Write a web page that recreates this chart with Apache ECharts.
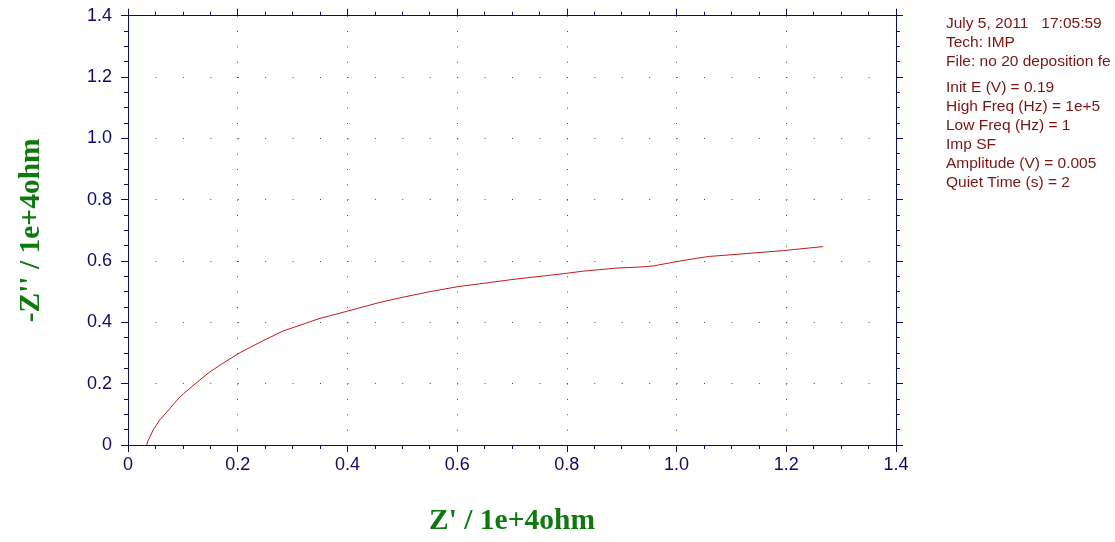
<!DOCTYPE html>
<html>
<head>
<meta charset="utf-8">
<script src="https://cdn.jsdelivr.net/npm/echarts@6/dist/echarts.min.js"></script>
<style>
html,body{margin:0;padding:0;background:#fff;}
#chart{width:1115px;height:542px;}
</style>
</head>
<body>
<div id="chart"></div>
<script>
// Data (units: 1e+4 ohm)
const zReal = [0.034, 0.037, 0.046, 0.058, 0.074, 0.089, 0.101, 0.125, 0.146, 0.168, 0.204, 0.245, 0.283, 0.350, 0.399, 0.459, 0.496, 0.550, 0.600, 0.702, 0.800, 0.830, 0.891, 0.939, 0.958, 1.000, 1.037, 1.060, 1.097, 1.195, 1.267];
const zImagNeg = [0.000, 0.016, 0.049, 0.082, 0.114, 0.146, 0.167, 0.203, 0.234, 0.261, 0.301, 0.339, 0.372, 0.413, 0.436, 0.465, 0.480, 0.500, 0.516, 0.540, 0.560, 0.567, 0.577, 0.581, 0.584, 0.598, 0.609, 0.615, 0.620, 0.634, 0.647];
const infoLinesTop = ['July 5, 2011   17:05:59', 'Tech: IMP', 'File: no 20 deposition fe'];
const infoLinesBottom = ['Init E (V) = 0.19', 'High Freq (Hz) = 1e+5', 'Low Freq (Hz) = 1', 'Imp SF', 'Amplitude (V) = 0.005', 'Quiet Time (s) = 2'];
const xTitle = "Z' / 1e+4ohm";
const yTitle = "-Z'' / 1e+4ohm";

const axisColor = '#0c0c68';
const gridDotColor = '#4e4e38';
const fmt = v => (Math.abs(v) < 1e-9 ? '0' : v.toFixed(1));

const chart = echarts.init(document.getElementById('chart'));

const infoFont = '15.5px "Liberation Sans", Arial, sans-serif';
const graphics = [];
infoLinesTop.forEach((t, i) => graphics.push({
  type: 'text', left: 946, top: 16 + i * 19,
  style: { text: t, fill: '#7a1414', font: infoFont }
}));
infoLinesBottom.forEach((t, i) => graphics.push({
  type: 'text', left: 946, top: 80 + i * 19,
  style: { text: t, fill: '#7a1414', font: infoFont }
}));

const baseAxis = {
  type: 'value', min: 0, max: 1.4, interval: 0.2,
  axisLine: { show: true, onZero: false, lineStyle: { color: axisColor, width: 1 } },
  axisTick: { show: true, inside: false, length: 7, lineStyle: { color: axisColor } },
  minorTick: { show: true, splitNumber: 4, length: 4, lineStyle: { color: axisColor } }
};
const titleStyle = { color: '#0e7a0e', fontFamily: '"Liberation Serif", "Times New Roman", serif', fontWeight: 'bold', fontSize: 29.5 };
const labelStyle = { show: true, color: axisColor, fontSize: 18, fontFamily: '"Liberation Sans", Arial, sans-serif', formatter: fmt };

chart.setOption({
  animation: false,
  backgroundColor: '#fff',
  graphic: graphics,
  grid: { left: 128, right: 219, top: 15.7, bottom: 97, containLabel: false },
  xAxis: [
    Object.assign({}, baseAxis, {
      position: 'bottom',
      name: xTitle, nameLocation: 'middle', nameGap: 61,
      nameTextStyle: titleStyle,
      axisLabel: Object.assign({ margin: 11 }, labelStyle),
      splitLine: { show: true, lineStyle: { color: gridDotColor, width: 1, type: [1, 14.33] } }
    }),
    Object.assign({}, baseAxis, {
      position: 'top',
      axisLabel: { show: false },
      splitLine: { show: false }
    })
  ],
  yAxis: [
    Object.assign({}, baseAxis, {
      position: 'left',
      name: yTitle, nameLocation: 'middle', nameGap: 82,
      nameTextStyle: titleStyle,
      axisLabel: Object.assign({ margin: 16 }, labelStyle),
      splitLine: { show: true, lineStyle: { color: gridDotColor, width: 1, type: [1, 26.43] } }
    }),
    Object.assign({}, baseAxis, {
      position: 'right',
      axisLabel: { show: false },
      splitLine: { show: false }
    })
  ],
  series: [{
    type: 'line',
    xAxisIndex: 0, yAxisIndex: 0,
    data: zReal.map((x, i) => [x, zImagNeg[i]]),
    showSymbol: false, smooth: false,
    lineStyle: { color: '#c01a1a', width: 1 },
    itemStyle: { color: '#c01a1a' }
  }]
});
</script>
</body>
</html>
